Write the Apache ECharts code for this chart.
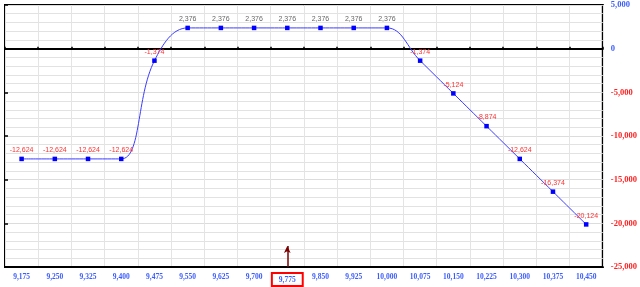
<!DOCTYPE html>
<html><head><meta charset="utf-8">
<script src="https://cdn.jsdelivr.net/npm/echarts@6/dist/echarts.min.js"></script>
<style>html,body{margin:0;padding:0;background:#fff}#c{width:640px;height:287px}</style>
</head><body><div id="c"></div>
<script>
const strikes = [9175,9250,9325,9400,9475,9550,9625,9700,9775,9850,9925,10000,10075,10150,10225,10300,10375,10450];
const pnl = [-12624,-12624,-12624,-12624,-1374,2376,2376,2376,2376,2376,2376,2376,-1374,-5124,-8874,-12624,-16374,-20124];
const yTicks = {min:-25000, max:5000, interval:5000};
const currentIndex = 8;
const arrowTop = -22600;

const fmt = v => Number(v).toLocaleString('en-US');
const cats = strikes.map(fmt);

const chart = echarts.init(document.getElementById('c'), null, {renderer:'canvas'});
chart.setOption({
  animation:false,
  grid:{left:5,right:31,top:5,bottom:16,show:true,borderColor:'#000',borderWidth:2,backgroundColor:'transparent'},
  xAxis:[{
    type:'category', data:cats, boundaryGap:true, position:'bottom',
    axisLine:{show:true,onZero:false,lineStyle:{color:'#000',width:2}},
    axisTick:{show:false},
    splitLine:{show:true,interval:0,lineStyle:{color:'#dcdcdc',width:1}},
    axisLabel:{interval:0,margin:6,fontFamily:'Liberation Serif',fontSize:7.5,fontWeight:'bold',color:'#3a5cff',
      formatter:(v,i)=> i===currentIndex ? '{hl|'+v+'}' : v,
      rich:{hl:{fontFamily:'Liberation Serif',fontSize:7.5,fontWeight:'bold',color:'#3a5cff',borderColor:'#ff0000',borderWidth:2,padding:[3,7,2,7]}}}
  },{
    type:'category', data:cats, boundaryGap:true,
    axisLine:{show:true,onZero:true,lineStyle:{color:'#000',width:2}},
    axisTick:{show:true,interval:0,length:2,inside:false,lineStyle:{color:'#000',width:1.5}},
    axisLabel:{show:false}, splitLine:{show:false}
  },{
    type:'value', min:-0.5, max:17.5, interval:1, show:true,
    axisLine:{show:false}, axisTick:{show:false}, axisLabel:{show:false},
    splitLine:{show:true,lineStyle:{color:'#e4e4e4',width:1}}
  }],
  yAxis:[{
    type:'value', position:'right', min:yTicks.min, max:yTicks.max, interval:yTicks.interval,
    axisLine:{show:false}, axisTick:{show:false},
    splitLine:{show:true,lineStyle:{color:'#dcdcdc',width:1}},
    minorTick:{show:false,splitNumber:5},
    minorSplitLine:{show:true,lineStyle:{color:'#e2e2e2',width:1}},
    axisLabel:{margin:8,formatter:v=> v>0 ? '{p|'+fmt(v)+'}' : (v<0 ? '{n|'+fmt(v)+'}' : '{p|0}'),
      rich:{p:{fontFamily:'Liberation Serif',fontSize:8.5,fontWeight:'bold',color:'#3a5cff'},
            n:{fontFamily:'Liberation Serif',fontSize:8.5,fontWeight:'bold',color:'#ff2020'}}}
  },{
    type:'value', position:'left', min:yTicks.min, max:yTicks.max, interval:yTicks.interval,
    axisLine:{show:false}, axisTick:{show:true,inside:true,length:3,lineStyle:{color:'#000',width:1.5}},
    axisLabel:{show:false}, splitLine:{show:false}
  }],
  series:[{
    type:'line', xAxisIndex:0, yAxisIndex:0,
    data:pnl.map(v=>({value:v,label:{color:v>=0?'#666666':'#ff3030'}})),
    smooth:0.4,
    symbol:'rect', symbolSize:4.5,
    lineStyle:{color:'#3b3bff',width:1},
    itemStyle:{color:'#0000ff'},
    label:{show:true,position:'top',distance:3,fontFamily:'Liberation Sans',fontSize:7,
      formatter:p=>fmt(p.value)},
    labelLayout:{hideOverlap:false},
    markLine:{silent:true,symbol:['none','arrow'],symbolSize:[5,7],
      label:{show:false},
      lineStyle:{color:'#7a0000',width:1.5,type:'solid'},
      data:[[{coord:[cats[currentIndex],yTicks.min]},{coord:[cats[currentIndex],arrowTop]}]]}
  }]
});
</script></body></html>
